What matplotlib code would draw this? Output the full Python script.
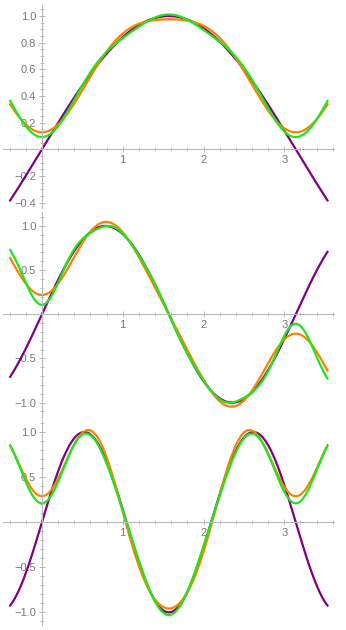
import numpy as np
import matplotlib.pyplot as plt
from matplotlib.ticker import FixedLocator, MultipleLocator

# exact curve of each panel is sin(k x) on [-pi/8, 9pi/8]
wave_k = [1, 2, 3]

# cosine series approximations: frequencies n and amplitudes a_n
orange_n = [[0, 2, 4], [1, 3, 5], [0, 2, 4, 6]]
orange_a = [[0.637, -0.424, -0.085],
            [0.849, -0.509, -0.121],
            [0.212, 0.764, -0.546, -0.141]]
green_n = [[0, 2, 4, 6], [1, 3, 5, 7, 9, 11], [0, 2, 4, 6, 8]]
green_a = [[0.637, -0.424, -0.085, -0.036],
           [0.849, -0.509, -0.121, -0.057, -0.033, -0.022],
           [0.19, 0.74, -0.548, -0.12, -0.052]]

yticks = [[-0.4, -0.2, 0.2, 0.4, 0.6, 0.8, 1.0],
          [-1.0, -0.5, 0.5, 1.0],
          [-1.0, -0.5, 0.5, 1.0]]
yminor = [0.05, 0.1, 0.1]
xticks = [1, 2, 3]

# layout (pixels) and ranges
W, H = 346, 630
rows = [(5, 208), (212, 418), (420, 625)]
ylims = [(-0.44, 1.083), (-1.174, 1.158), (-1.14, 1.134)]
xlim = (-0.478, 3.615)
left_px, right_px = 3.3, 334

plt.rcParams['font.family'] = ['Liberation Sans', 'DejaVu Sans']

fig = plt.figure(figsize=(W / 100, H / 100), dpi=100)

x = np.linspace(-np.pi / 8, 9 * np.pi / 8, 800)
axis_col = '#b8b8b8'
text_col = '#777777'

for i in range(3):
    top, bot = rows[i]
    ax = fig.add_axes([left_px / W, 1 - bot / H, (right_px - left_px) / W, (bot - top) / H])
    ax.patch.set_alpha(0)

    exact = np.sin(wave_k[i] * x)
    orange = sum(a * np.cos(n * x) for n, a in zip(orange_n[i], orange_a[i]))
    green = sum(a * np.cos(n * x) for n, a in zip(green_n[i], green_a[i]))

    ax.plot(x, exact, color='#800080', lw=1.6)
    ax.plot(x, orange, color='#ff8000', lw=1.6)
    ax.plot(x, green, color='#1ee61e', lw=1.6)

    ax.set_xlim(*xlim)
    ax.set_ylim(*ylims[i])

    for s in ['top', 'right']:
        ax.spines[s].set_visible(False)
    ax.spines['left'].set_position(('data', 0))
    ax.spines['bottom'].set_position(('data', 0))
    for s in ['left', 'bottom']:
        ax.spines[s].set_color(axis_col)
        ax.spines[s].set_linewidth(0.8)
    ax.set_axisbelow(True)

    ax.xaxis.set_major_locator(FixedLocator(xticks))
    ax.set_xticklabels([str(v) for v in xticks])
    ax.xaxis.set_minor_locator(MultipleLocator(0.2))
    ax.yaxis.set_major_locator(FixedLocator(yticks[i]))
    ax.set_yticklabels([f'{v:.1f}'.replace('-', '\u2212') for v in yticks[i]])
    ax.yaxis.set_minor_locator(MultipleLocator(yminor[i]))

    ax.tick_params(which='major', length=4, width=0.7, color=axis_col,
                   labelcolor=text_col, labelsize=8, direction='inout', pad=2)
    ax.tick_params(which='minor', length=2.5, width=0.6, color=axis_col, direction='inout')

fig.savefig('out.png', dpi=100)
